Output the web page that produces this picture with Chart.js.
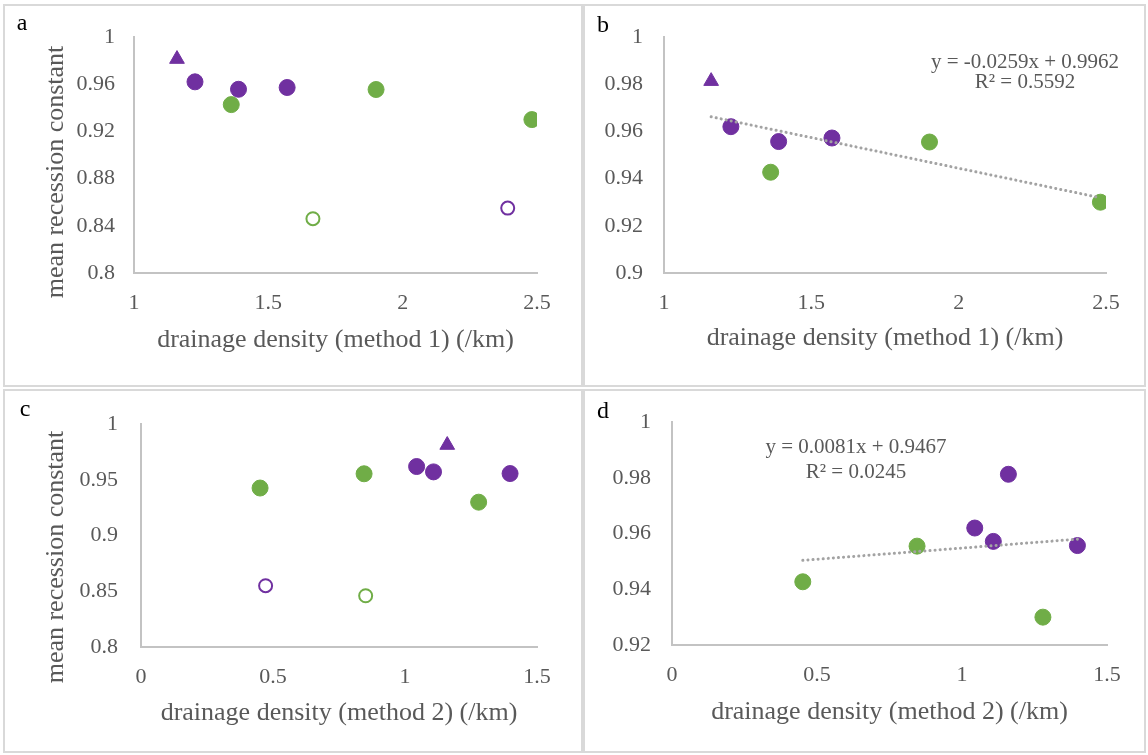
<!DOCTYPE html>
<html>
<head>
<meta charset="utf-8">
<script src="https://cdn.jsdelivr.net/npm/chart.js@4.4.1/dist/chart.umd.min.js"></script>
<style>
  body { margin: 0; background: #fff; width: 1148px; height: 755px; position: relative; overflow: hidden; }
  .panel { position: absolute; border: 2px solid #d9d9d9; box-sizing: border-box; }
  canvas { position: absolute; }
</style>
</head>
<body>
<div class="panel" style="left:3px;top:4px;width:580px;height:383px"></div>
<div class="panel" style="left:583px;top:4px;width:563px;height:383px"></div>
<div class="panel" style="left:3px;top:389px;width:580px;height:364px"></div>
<div class="panel" style="left:583px;top:389px;width:563px;height:364px"></div>

<canvas id="chartA" width="582" height="388" style="left:0;top:0"></canvas>
<canvas id="chartB" width="566" height="388" style="left:582px;top:0"></canvas>
<canvas id="chartC" width="582" height="367" style="left:0;top:388px"></canvas>
<canvas id="chartD" width="566" height="367" style="left:582px;top:388px"></canvas>

<script>
// mean recession constant per catchment
const purpleY = [0.9620, 0.9557, 0.9572];
const purpleDd1 = [1.227, 1.389, 1.570];
const purpleDd2 = [1.044, 1.398, 1.108];

const triangleY = [0.9813];
const triangleDd1 = [1.160];
const triangleDd2 = [1.160];

const greenY = [0.9427, 0.9555, 0.9300];
const greenDd1 = [1.362, 1.901, 2.481];
const greenDd2 = [0.451, 0.845, 1.279];

// open markers (only in a and c)
const openGreenY = [0.846];
const openGreenDd1 = [1.666];
const openGreenDd2 = [0.851];
const openPurpleY = [0.855];
const openPurpleDd1 = [2.391];
const openPurpleDd2 = [0.472];

// trend lines (end points as drawn)
const trendBx = [1.160, 2.481];
const trendBy = [0.9662, 0.9319];
const trendDx = [0.451, 1.398];
const trendDy = [0.9504, 0.9580];

const eqB = ['y = -0.0259x + 0.9962', 'R² = 0.5592'];
const eqD = ['y = 0.0081x + 0.9467', 'R² = 0.0245'];

// tick labels
const xTicks1 = [1, 1.5, 2, 2.5];
const xTicks2 = [0, 0.5, 1, 1.5];
const yTicksA = [0.8, 0.84, 0.88, 0.92, 0.96, 1];
const yTicksB = [0.9, 0.92, 0.94, 0.96, 0.98, 1];
const yTicksC = [0.8, 0.85, 0.9, 0.95, 1];
const yTicksD = [0.92, 0.94, 0.96, 0.98, 1];

const xTitle1 = 'drainage density (method 1) (/km)';
const xTitle2 = 'drainage density (method 2) (/km)';
const yTitle = 'mean recession constant';

const PURPLE = '#7030a0';
const GREEN = '#70ad47';
const GREY = '#595959';
const SERIF = '"Liberation Serif", "Times New Roman", serif';

function pts(xs, ys) {
    return xs.map((x, i) => ({x: x, y: ys[i]}));
}

function filled(xs, ys, color, style) {
    return {
        type: 'scatter',
        data: pts(xs, ys),
        pointStyle: style || 'circle',
        pointRadius: style === 'triangle' ? 8.5 : 8,
        backgroundColor: color,
        borderColor: color,
        borderWidth: 1,
        order: 1
    };
}

function hollow(xs, ys, color) {
    return {
        type: 'scatter',
        data: pts(xs, ys),
        pointStyle: 'circle',
        pointRadius: 6.5,
        backgroundColor: '#fff',
        borderColor: color,
        borderWidth: 2,
        order: 1
    };
}

function trend(xs, ys) {
    return {
        type: 'line',
        data: pts(xs, ys),
        showLine: true,
        pointRadius: 0,
        borderColor: '#a3a3a3',
        borderWidth: 3,
        borderDash: [0.1, 5],
        borderCapStyle: 'round',
        fill: false,
        order: 0
    };
}

// draws extra texts (panel letter, y title, equation) at canvas coordinates
const panelText = {
    id: 'panelText',
    afterDraw(chart, args, opts) {
        const ctx = chart.ctx;
        (opts.items || []).forEach(t => {
            ctx.save();
            ctx.font = t.font;
            ctx.fillStyle = t.color;
            ctx.textAlign = 'center';
            ctx.textBaseline = 'middle';
            ctx.translate(t.x, t.y);
            if (t.rotate) ctx.rotate(t.rotate);
            ctx.fillText(t.text, 0, 0);
            ctx.restore();
        });
    }
};

function makeChart(id, cfg) {
    const tickFont = {family: SERIF, size: 22};
    return new Chart(document.getElementById(id), {
        data: {datasets: cfg.datasets},
        plugins: [panelText],
        options: {
            responsive: false,
            animation: false,
            layout: {autoPadding: false, padding: {left: 0, top: cfg.top, right: cfg.right, bottom: 0}},
            plugins: {
                legend: {display: false},
                tooltip: {enabled: false},
                panelText: {items: cfg.texts}
            },
            scales: {
                x: {
                    type: 'linear',
                    min: cfg.xTicks[0],
                    max: cfg.xTicks[cfg.xTicks.length - 1],
                    afterBuildTicks: s => { s.ticks = cfg.xTicks.map(v => ({value: v})); },
                    afterFit: s => { s.height = cfg.xHeight; },
                    grid: {display: false, drawTicks: false},
                    border: {display: true, color: '#c3c3c3', width: 2},
                    ticks: {color: GREY, font: tickFont, padding: 17, maxRotation: 0, callback: v => String(v)},
                    title: {display: true, text: cfg.xTitle, color: GREY,
                            font: {family: SERIF, size: 26}, padding: {top: 0, bottom: cfg.titlePad}}
                },
                y: {
                    type: 'linear',
                    min: cfg.yTicks[0],
                    max: cfg.yTicks[cfg.yTicks.length - 1],
                    afterBuildTicks: s => { s.ticks = cfg.yTicks.map(v => ({value: v})); },
                    afterFit: s => { s.width = cfg.yWidth; },
                    grid: {display: false, drawTicks: false},
                    border: {display: true, color: '#c3c3c3', width: 2},
                    ticks: {color: GREY, font: tickFont, padding: cfg.yPad, callback: v => String(+v.toFixed(4))}
                }
            }
        }
    });
}

function letter(ch, x, y) {
    return {text: ch, x: x, y: y, font: '24px ' + SERIF, color: '#000'};
}
function yTitleItem(x, y) {
    return {text: yTitle, x: x, y: y, rotate: -Math.PI / 2, font: '26px ' + SERIF, color: GREY};
}
function eqItems(lines, x, y1, y2) {
    return [
        {text: lines[0], x: x, y: y1, font: '21px ' + SERIF, color: GREY},
        {text: lines[1], x: x, y: y2, font: '21px ' + SERIF, color: GREY}
    ];
}

window.onload = () => {
    makeChart('chartA', {
        datasets: [
            filled(triangleDd1, triangleY, PURPLE, 'triangle'),
            filled(purpleDd1, purpleY, PURPLE),
            filled(greenDd1, greenY, GREEN),
            hollow(openGreenDd1, openGreenY, GREEN),
            hollow(openPurpleDd1, openPurpleY, PURPLE)
        ],
        xTicks: xTicks1, yTicks: yTicksA,
        top: 37, right: 45, yWidth: 134, xHeight: 115, yPad: 19, titlePad: 32,
        xTitle: xTitle1,
        texts: [letter('a', 22, 24), yTitleItem(56, 172)]
    });

    makeChart('chartB', {
        datasets: [
            trend(trendBx, trendBy),
            filled(triangleDd1, triangleY, PURPLE, 'triangle'),
            filled(purpleDd1, purpleY, PURPLE),
            filled(greenDd1, greenY, GREEN)
        ],
        xTicks: xTicks1, yTicks: yTicksB,
        top: 37, right: 42, yWidth: 82, xHeight: 115, yPad: 21, titlePad: 34,
        xTitle: xTitle1,
        texts: [letter('b', 21, 26)].concat(eqItems(eqB, 443, 62, 82))
    });

    makeChart('chartC', {
        datasets: [
            filled(triangleDd2, triangleY, PURPLE, 'triangle'),
            filled(purpleDd2, purpleY, PURPLE),
            filled(greenDd2, greenY, GREEN),
            hollow(openGreenDd2, openGreenY, GREEN),
            hollow(openPurpleDd2, openPurpleY, PURPLE)
        ],
        xTicks: xTicks2, yTicks: yTicksC,
        top: 32, right: 45, yWidth: 141, xHeight: 108, yPad: 23, titlePad: 26,
        xTitle: xTitle2,
        texts: [letter('c', 25, 22), yTitleItem(56, 169)]
    });

    makeChart('chartD', {
        datasets: [
            trend(trendDx, trendDy),
            filled(triangleDd2, triangleY, PURPLE),
            filled(purpleDd2, purpleY, PURPLE),
            filled(greenDd2, greenY, GREEN)
        ],
        xTicks: xTicks2, yTicks: yTicksD,
        top: 31, right: 41, yWidth: 90, xHeight: 110, yPad: 21, titlePad: 27,
        xTitle: xTitle2,
        texts: [letter('d', 21, 24)].concat(eqItems(eqD, 274, 59, 84))
    });
};
</script>
</body>
</html>
